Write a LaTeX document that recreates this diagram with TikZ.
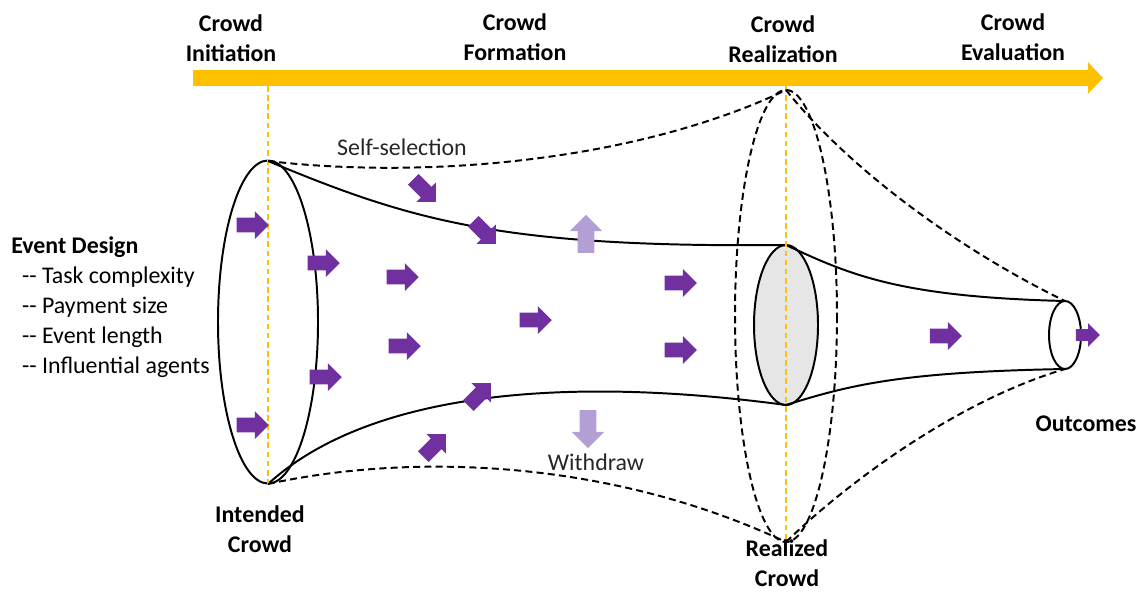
\documentclass[tikz,border=0pt]{standalone}
\usepackage{fontspec}
\setmainfont{Carlito}
\usetikzlibrary{positioning,shapes.arrows,arrows.meta}
\definecolor{ink}   {HTML}{000000}
\definecolor{gold}  {HTML}{FFC000}
\definecolor{plum}  {HTML}{7030A0}
\definecolor{lilac} {HTML}{B49FD4}
\definecolor{haze}  {HTML}{E6E6E6}
\definecolor{softink}{HTML}{262626}
\tikzset{
  every node/.style={font=\fontsize{17}{21.3}\selectfont},
  % --- nodes
  stage/.style  = {align=center, inner sep=0pt, font=\fontsize{17}{21.3}\selectfont\bfseries},
  note/.style   = {inner sep=0pt, text=softink},
  flow/.style   = {single arrow, draw=none, fill=plum, minimum height=0.8cm,
                   inner xsep=0pt, inner ysep=0.18cm, single arrow head extend=0.16cm},
  flowsm/.style = {flow, minimum height=0.6cm, inner ysep=0.14cm, single arrow head extend=0.15cm},
  flowlt/.style = {flow, fill=lilac, minimum height=0.95cm, inner ysep=0.2cm,
                   single arrow head extend=0.2cm},
  % --- edges
  rim/.style    = {draw=ink, line width=1.4pt},
  reach/.style  = {draw=ink, line width=1.4pt, dash pattern=on 5pt off 3pt},
  guide/.style  = {draw=gold, line width=1.1pt, dash pattern=on 4pt off 2.5pt},
}
\begin{document}
\begin{tikzpicture}[x=0.025cm,y=-0.025cm]
  \useasboundingbox (0,0) rectangle (1141,592);

  % --- time line
  \coordinate (tl) at (193,78);
  \coordinate (tr) at (1103,78);
  \draw[gold, line width=0.4cm, -{Triangle[width=0.78cm,length=0.38cm]}] (tl) -- (tr);

  \node[stage] (sInit) at (231,38) {Crowd\\Initiation};
  \node[stage] (sForm) at (515,37) {Crowd\\Formation};
  \node[stage] (sReal) at (783,39) {Crowd\\Realization};
  \node[stage] (sEval) at (1013,37) {Crowd\\Evaluation};

  % --- funnel outline
  \coordinate (it) at (268,161);
  \coordinate (ib) at (268,484);
  \coordinate (rt) at (786,245);
  \coordinate (rb) at (786,405);
  \coordinate (ot) at (1065,301);
  \coordinate (ob) at (1065,369);
  \coordinate (dt) at (786,90);
  \coordinate (db) at (786,542);
  \coordinate (g1) at (268,86);
  \coordinate (g2) at (786,86);

  \draw[rim] (268,322) ellipse [x radius=50, y radius=161.5];
  \draw[rim, fill=haze] (786,325) ellipse [x radius=32, y radius=80];
  \draw[rim] (1065,335) ellipse [x radius=16, y radius=34];

  \draw[rim] (it) .. controls (410,220) and (500,248) .. (rt);
  \draw[rim] (ib) .. controls (360,400) and (540,372) .. (rb);
  \draw[rim] (rt) .. controls (850,275) and (900,297) .. (ot);
  \draw[rim] (rb) .. controls (850,385) and (900,372) .. (ob);

  \draw[guide] (g1) -- (ib);
  \draw[guide] (g2) -- (db);

  \draw[reach] (786,316) ellipse [x radius=51, y radius=226];
  \draw[reach] (it) .. controls (430,180) and (640,160) .. (dt);
  \draw[reach] (ib) .. controls (400,455) and (600,455) .. (db);
  \draw[reach] (dt) .. controls (850,170) and (960,250) .. (ot);
  \draw[reach] (db) .. controls (850,480) and (960,400) .. (ob);

  % --- crowd flow
  \node[flow] (f1) at (249,225) {};
  \node[flow] (f2) at (320,263) {};
  \node[flow] (f3) at (322,377) {};
  \node[flow] (f4) at (249,425) {};
  \node[flow] (f5) at (399,277) {};
  \node[flow] (f6) at (401,346) {};
  \node[flow] (f7) at (532,320) {};
  \node[flow] (f8) at (677,283) {};
  \node[flow] (f9) at (677,350) {};
  \node[flow] (f10) at (942,336) {};
  \node[flowsm] (f11) at (1085,335) {};
  \node[flow, rotate=-45] (in1) at (422,188) {};
  \node[flow, rotate=-45] (in2) at (482,230) {};
  \node[flow, rotate=45] (in3) at (477,397) {};
  \node[flow, rotate=45] (in4) at (432,448) {};
  \node[flowlt, rotate=90] (out1) at (586,238) {};
  \node[flowlt, rotate=-90] (out2) at (588,425) {};

  % --- labels
  \node[note] (selfsel) at (402,147) {Self-selection};
  \node[note] (withdraw) at (596,462) {Withdraw};
  \node[stage] (intended) at (260,529) {Intended\\Crowd};
  \node[stage] (realized) at (787,563) {Realized\\Crowd};
  \node[stage] (outcomes) at (1086,424) {Outcomes};
  \node[note, anchor=west, align=left, text=ink] (design) at (11,307)
    {\textbf{Event Design}\\
     \hspace{0.45em}-{}- Task complexity\\
     \hspace{0.45em}-{}- Payment size\\
     \hspace{0.45em}-{}- Event length\\
     \hspace{0.45em}-{}- Influential agents};
\end{tikzpicture}
\end{document}
